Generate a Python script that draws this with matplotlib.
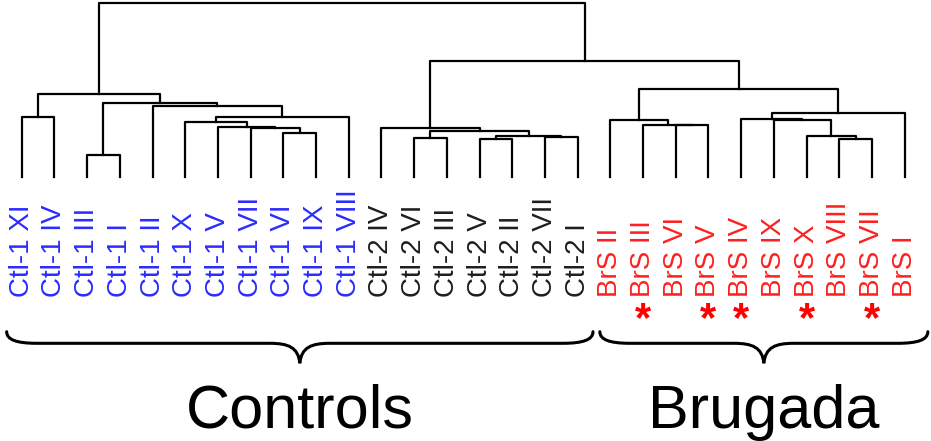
import numpy as np
import matplotlib.pyplot as plt
from matplotlib.path import Path
from matplotlib.patches import PathPatch

plt.rcParams['font.family'] = ['Liberation Sans', 'DejaVu Sans']

# leaves, left to right as they are drawn
ctl1_labels = ['Ctl-1 XI', 'Ctl-1 IV', 'Ctl-1 III', 'Ctl-1 I', 'Ctl-1 II', 'Ctl-1 X',
               'Ctl-1 V', 'Ctl-1 VII', 'Ctl-1 VI', 'Ctl-1 IX', 'Ctl-1 VIII']
ctl2_labels = ['Ctl-2 IV', 'Ctl-2 VI', 'Ctl-2 III', 'Ctl-2 V', 'Ctl-2 II', 'Ctl-2 VII', 'Ctl-2 I']
brs_labels = ['BrS II', 'BrS III', 'BrS VI', 'BrS V', 'BrS IV', 'BrS IX', 'BrS X',
              'BrS VIII', 'BrS VII', 'BrS I']
starred = ['BrS III', 'BrS V', 'BrS IV', 'BrS X', 'BrS VII']

# linkage, scipy style: node n+k is created by row k
merge_left = [2, 14, 25, 12, 16, 24, 29, 8, 31, 11, 7, 6, 20, 19,
              5, 23, 18, 22, 42, 0, 45, 4, 28, 47, 44, 37, 51]
merge_right = [3, 15, 26, 13, 17, 30, 32, 9, 34, 36, 35, 38, 21, 40,
               39, 33, 41, 43, 10, 1, 27, 46, 49, 50, 48, 52, 53]
merge_height = [22.0, 37.7, 37.7, 38.7, 40.0, 40.3, 41.0, 43.7, 45.3, 48.7, 49.0, 49.7, 51.5, 52.0,
                54.7, 56.7, 57.0, 57.3, 59.7, 60.0, 63.7, 70.5, 73.7, 82.5, 87.7, 116.0, 173.7]

groups = [('Controls', 0, 17), ('Brugada', 18, 27)]

labels = ctl1_labels + ctl2_labels + brs_labels
colors = ['#2b2bff'] * len(ctl1_labels) + ['#1e1e1e'] * len(ctl2_labels) + ['#ff1f1f'] * len(brs_labels)
n = len(labels)

fig = plt.figure(figsize=(9.31, 4.41), dpi=100)
ax = fig.add_axes([0, 0, 1, 1])
ax.set_xlim(-0.664, 27.807)
ax.set_ylim(-264.3, 176.7)
ax.axis('off')

pos = {i: (float(i), 0.0) for i in range(n)}
for k, (a, b, h) in enumerate(zip(merge_left, merge_right, merge_height)):
    xa, ha = pos[a]
    xb, hb = pos[b]
    ax.plot([xa, xa, xb, xb], [ha, h, h, hb], color='black', lw=1.6, clip_on=False)
    pos[n + k] = ((xa + xb) / 2, h)

for i, (lab, c) in enumerate(zip(labels, colors)):
    ax.text(i, -120.3, lab, rotation=90, ha='center', va='bottom', fontsize=20, color=c)
    if lab in starred:
        ax.text(i, -143.5, '*', ha='center', va='center', fontsize=30,
                fontweight='bold', color='red')


def brace(ax, x0, x1, y_tip=-155, y_line=-166.6, y_point=-186.6, bend=0.92):
    xm = (x0 + x1) / 2
    verts = [(x0, y_tip),
             (x0, y_tip - 8), (x0 + 0.3, y_line), (x0 + bend, y_line),
             (xm - bend, y_line),
             (xm - 0.35, y_line), (xm - 0.05, y_line - 4), (xm, y_point),
             (xm + 0.05, y_line - 4), (xm + 0.35, y_line), (xm + bend, y_line),
             (x1 - bend, y_line),
             (x1 - 0.3, y_line), (x1, y_tip - 8), (x1, y_tip)]
    codes = [Path.MOVETO] + [Path.CURVE4] * 3 + [Path.LINETO] + [Path.CURVE4] * 6 + \
            [Path.LINETO] + [Path.CURVE4] * 3
    ax.add_patch(PathPatch(Path(verts, codes), fill=False, lw=2.2, color='black',
                           capstyle='round', clip_on=False))
    return xm


pads = [(0.46, 0.47), (0.32, 0.71)]
for (name, first, last), (pl, pr) in zip(groups, pads):
    xm = brace(ax, first - pl, last + pr)
    ax.text(xm, -251, name, ha='center', va='baseline', fontsize=44)

fig.savefig('out.png', dpi=100)
